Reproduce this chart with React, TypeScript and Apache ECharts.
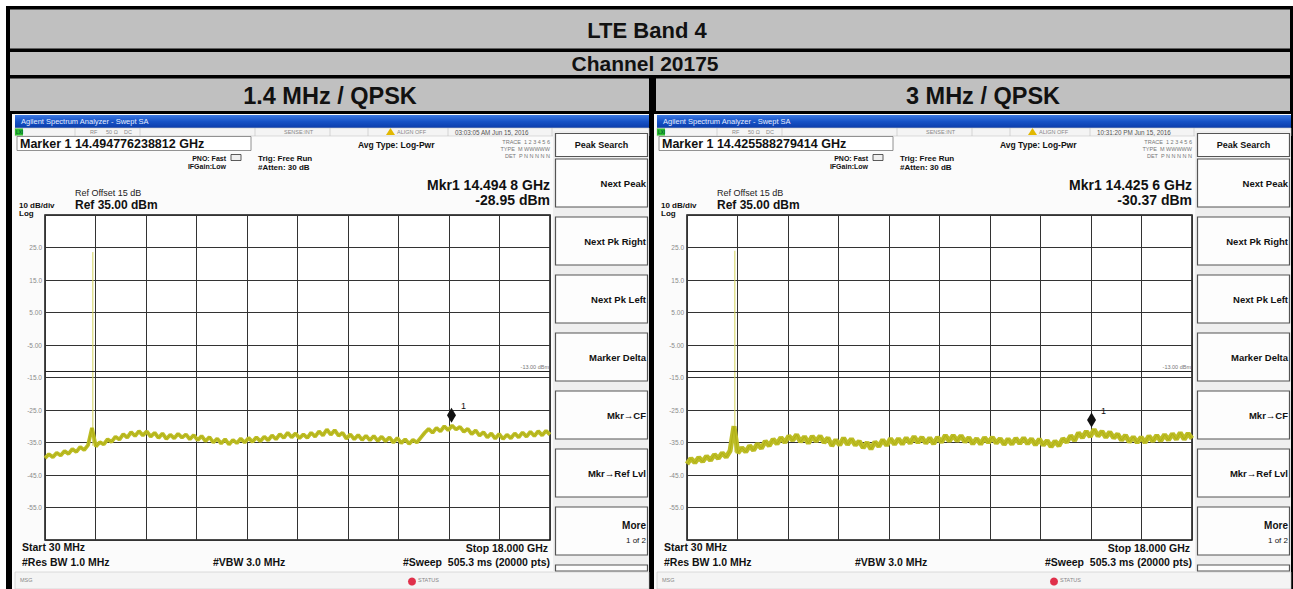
import React, { useEffect, useRef } from 'react';
import * as echarts from 'echarts';

// ---------- texts ----------
const TABLE_TITLE = 'LTE Band 4';
const CHANNEL_TITLE = 'Channel 20175';
const PANEL_TITLES = ['1.4 MHz / QPSK', '3 MHz / QPSK'];
const WINDOW_TITLE = 'Agilent Spectrum Analyzer - Swept SA';
const MARKER_LINES = ['Marker 1 14.494776238812 GHz', 'Marker 1 14.425588279414 GHz'];
const TIMESTAMPS = ['03:03:05 AM Jun 15, 2016', '10:31:20 PM Jun 15, 2016'];
const MKR_FREQ_TEXT = ['Mkr1 14.494 8 GHz', 'Mkr1 14.425 6 GHz'];
const MKR_LEVEL_TEXT = ['-28.95 dBm', '-30.37 dBm'];
const SOFTKEYS = ['Next Peak', 'Next Pk Right', 'Next Pk Left', 'Marker Delta', 'Mkr\u2192CF', 'Mkr\u2192Ref Lvl'];

// ---------- values ----------
const SWEEP_START_GHZ = 0.03;
const SWEEP_STOP_GHZ = 18;
const REF_LEVEL_DBM = 35;
const BOTTOM_LEVEL_DBM = -65;
const DB_PER_DIV = 10;
const LIMIT_DBM = -13;
const MARKER_FREQ_GHZ = [14.494776, 14.425588];
const MARKER_LEVEL_DBM = [-28.95, -30.37];
const CARRIER_FREQ_GHZ = 1.7325;
const CARRIER_PEAK_DBM = [23.6, 24.0];
const CARRIER_BASE_DBM = [-36.0, -38.0];
const Y_TICKS = [25, 15, 5, -5, -15, -25, -35, -45, -55];
const Y_TICK_LABELS = ['25.0', '15.0', '5.00', '-5.00', '-15.0', '-25.0', '-35.0', '-45.0', '-55.0'];

const LEFT_TRACE = [
  -39.8, -38.6, -39.5, -38.2, -39.0, -37.6, -38.5, -37.0, -37.9, -36.4,
  -37.3, -35.8, -30.5, -36.2, -34.9, -35.6, -34.0, -34.8, -33.2, -34.1,
  -32.4, -33.5, -31.8, -33.0, -31.5, -32.8, -31.6, -33.2, -32.0, -33.6,
  -32.2, -33.9, -32.6, -33.7, -32.3, -33.5, -32.5, -34.0, -32.7, -34.3,
  -33.0, -34.6, -33.3, -35.0, -33.8, -35.3, -34.0, -35.6, -34.2, -35.2,
  -33.8, -35.0, -33.6, -34.8, -33.4, -34.6, -33.2, -34.3, -32.8, -34.0,
  -32.4, -33.6, -32.0, -33.4, -32.2, -33.7, -32.5, -33.6, -32.0, -33.2,
  -31.6, -32.8, -31.0, -32.6, -31.2, -32.9, -32.0, -33.8, -32.5, -34.0,
  -32.7, -34.2, -32.9, -34.3, -33.0, -34.5, -33.2, -34.6, -33.4, -35.0,
  -33.6, -35.2, -34.0, -35.4, -34.2, -35.0, -33.5, -32.0, -30.8, -32.0,
  -30.5, -31.6, -30.0, -31.2, -29.8, -31.0, -30.2, -31.7, -30.8, -32.4,
  -31.3, -32.9, -31.8, -33.4, -32.2, -33.8, -32.4, -33.9, -32.6, -33.7,
  -32.2, -33.4, -31.9, -33.2, -31.7, -33.0, -31.5, -32.8, -31.4, -32.6,
];

const RIGHT_TRACE = [
  -41.6, -39.9, -41.2, -39.6, -40.9, -39.2, -40.5, -38.7, -39.9, -38.2,
  -39.5, -37.6, -30.0, -38.2, -36.6, -37.9, -36.0, -37.4, -35.4, -36.8,
  -34.6, -36.0, -34.0, -35.4, -33.5, -35.0, -33.0, -34.3, -32.6, -34.8,
  -33.2, -35.2, -33.1, -34.6, -33.0, -35.0, -33.6, -36.0, -34.2, -35.8,
  -33.6, -35.6, -33.9, -35.8, -34.6, -36.6, -35.0, -37.0, -34.8, -36.2,
  -34.2, -35.9, -33.8, -35.6, -33.8, -35.5, -33.6, -35.2, -33.2, -35.0,
  -33.4, -35.2, -33.6, -35.4, -33.4, -34.9, -32.8, -34.6, -32.8, -34.5,
  -32.9, -34.8, -33.5, -35.4, -33.8, -35.5, -33.5, -35.0, -33.4, -35.2,
  -33.8, -35.6, -33.9, -35.5, -33.7, -35.3, -33.6, -35.4, -33.9, -35.7,
  -34.0, -35.8, -34.4, -36.3, -34.6, -36.0, -33.8, -34.9, -32.9, -34.4,
  -32.0, -33.5, -31.6, -33.2, -31.0, -33.0, -31.6, -33.4, -31.8, -33.6,
  -32.4, -34.3, -32.8, -34.8, -33.3, -35.0, -33.4, -35.0, -33.0, -34.6,
  -32.8, -34.5, -32.6, -34.2, -32.3, -34.0, -32.0, -34.0, -32.2, -33.8,
];

const TRACES = [LEFT_TRACE, RIGHT_TRACE];

// ---------- helpers ----------
const FONT = '"Liberation Sans", Arial, Helvetica, sans-serif';

function txt(x: number, y: number, text: string, size: number, opts: any = {}) {
  const align = opts.align || 'left';
  const weight = opts.bold === false ? 'normal' : 'bold';
  return {
    type: 'text',
    x,
    y,
    z: 20,
    silent: true,
    style: {
      text,
      fill: opts.color || '#111',
      font: `${weight} ${size}px ${FONT}`,
      align,
      textAlign: align,
      verticalAlign: 'middle',
      textVerticalAlign: 'middle',
    },
  };
}

function rect(x: number, y: number, w: number, h: number, fill: any, stroke?: string, lw?: number, z = -5) {
  return {
    type: 'rect',
    z,
    silent: true,
    shape: { x, y, width: w, height: h },
    style: { fill, stroke: stroke || null, lineWidth: lw || 0 },
  };
}

function seg(x1: number, y1: number, x2: number, y2: number, stroke: string, lw = 1, z = -4) {
  return { type: 'line', z, silent: true, shape: { x1, y1, x2, y2 }, style: { stroke, lineWidth: lw } };
}

function tracePoints(values: number[]) {
  const n = values.length;
  const step = (SWEEP_STOP_GHZ - SWEEP_START_GHZ) / (n - 1);
  return values.map((v, i) => [SWEEP_START_GHZ + i * step, v]);
}

function screenshotElements(k: number) {
  const dx = k === 0 ? 0 : 642;
  const X = (x: number) => x + dx;
  const els: any[] = [];
  // screen background
  els.push(rect(X(12), 114, 637, 475, '#fbfbfb', undefined, 0, -8));
  // title bar
  els.push(
    rect(
      X(15),
      115,
      634,
      13,
      new echarts.graphic.LinearGradient(0, 0, 0, 1, [
        { offset: 0, color: '#3d7ae2' },
        { offset: 0.5, color: '#1652c6' },
        { offset: 1, color: '#0b3caa' },
      ]),
      undefined,
      0,
      -6
    )
  );
  els.push(txt(X(21), 121.5, WINDOW_TITLE, 7.5, { bold: false, color: '#e4ecff' }));
  // status row
  els.push(rect(X(15), 128, 634, 8, '#f4f4f4', '#c8c8c8', 0.6, -6));
  [75, 140, 255, 330, 368, 448, 552].forEach((x) => els.push(seg(X(x), 128, X(x), 136, '#c0c0c0', 0.6)));
  els.push(rect(X(15), 128.5, 8, 7, '#2fbf2f', undefined, 0, -3));
  els.push(txt(X(16), 132, 'LXI', 4.5, { color: '#063' }));
  els.push(txt(X(90), 132, 'RF', 5.5, { bold: false, color: '#888' }));
  els.push(txt(X(106), 132, '50 \u03a9', 5.5, { bold: false, color: '#888' }));
  els.push(txt(X(124), 132, 'DC', 5.5, { bold: false, color: '#888' }));
  els.push(txt(X(284), 132, 'SENSE:INT', 5.5, { bold: false, color: '#888' }));
  els.push({
    type: 'polygon',
    z: 5,
    silent: true,
    shape: { points: [[X(386), 135], [X(390.5), 128], [X(395), 135]] },
    style: { fill: '#e2b800' },
  });
  els.push(txt(X(397), 132, 'ALIGN OFF', 5.5, { bold: false, color: '#888' }));
  els.push(txt(X(455), 132, TIMESTAMPS[k], 6.3, { bold: false, color: '#555' }));

  // marker box
  els.push(rect(X(17), 136.5, 234, 14, '#ffffff', '#777', 0.8, -4));
  els.push(txt(X(20), 143.5, MARKER_LINES[k], 12.5));
  els.push(txt(X(226), 158, 'PNO: Fast', 7, { align: 'right' }));
  els.push(rect(X(231), 154.5, 10, 6, '#f0f0f0', '#333', 0.8, 2));
  els.push(txt(X(226), 166, 'IFGain:Low', 7, { align: 'right' }));
  els.push(txt(X(258), 158, 'Trig: Free Run', 8));
  els.push(txt(X(258), 167, '#Atten: 30 dB', 8));
  els.push(txt(X(358), 145, 'Avg Type: Log-Pwr', 8.5));
  els.push(txt(X(550), 142, 'TRACE  1 2 3 4 5 6', 5.5, { bold: false, color: '#777', align: 'right' }));
  els.push(txt(X(550), 149, 'TYPE  M WWWWW', 5.5, { bold: false, color: '#777', align: 'right' }));
  els.push(txt(X(550), 156, 'DET  P N N N N N', 5.5, { bold: false, color: '#777', align: 'right' }));
  els.push(txt(X(75), 193, 'Ref Offset 15 dB', 9, { bold: false, color: '#222' }));
  els.push(txt(X(75), 205, 'Ref 35.00 dBm', 12));
  els.push(txt(X(19), 205.5, '10 dB/div', 8));
  els.push(txt(X(19), 213.5, 'Log', 8));
  els.push(txt(X(550), 185, MKR_FREQ_TEXT[k], 14, { align: 'right' }));
  els.push(txt(X(550), 199.5, MKR_LEVEL_TEXT[k], 14, { align: 'right' }));

  // bottom annotations
  els.push(txt(X(22), 547, 'Start 30 MHz', 10.5));
  els.push(txt(X(22), 562, '#Res BW 1.0 MHz', 10.5));
  els.push(txt(X(213), 562, '#VBW 3.0 MHz', 10.5));
  els.push(txt(X(548), 547.5, 'Stop 18.000 GHz', 10.5, { align: 'right' }));
  els.push(txt(X(550), 562, '#Sweep  505.3 ms (20000 pts)', 10.5, { align: 'right' }));
  els.push(rect(X(15), 572, 634, 17, '#f4f4f4', '#c8c8c8', 0.6, -6));
  els.push(txt(X(20), 580, 'MSG', 5.5, { bold: false, color: '#888' }));
  els.push({ type: 'circle', z: 5, silent: true, shape: { cx: X(412), cy: 581.5, r: 4 }, style: { fill: '#e0304a' } });
  els.push(txt(X(418), 580, 'STATUS', 5.5, { bold: false, color: '#888' }));

  // softkeys
  els.push(rect(X(553), 131, 96, 441, '#efefef', undefined, 0, -6));
  els.push(rect(X(555.5), 133.5, 92, 23, '#fdfdfd', '#555', 1.2, -3));
  els.push(txt(X(601.5), 145, 'Peak Search', 9, { align: 'center' }));
  SOFTKEYS.forEach((label, i) => {
    const top = 159 + i * 58;
    els.push(rect(X(555.5), top, 92, 48, '#fdfdfd', '#555', 1.2, -3));
    els.push(txt(X(646), top + 24, label, 9.5, { align: 'right' }));
  });
  els.push(rect(X(555.5), 507, 92, 48, '#fdfdfd', '#555', 1.2, -3));
  els.push(txt(X(646), 525, 'More', 10, { align: 'right' }));
  els.push(txt(X(646), 540, '1 of 2', 8, { bold: false, align: 'right' }));
  els.push(rect(X(555.5), 565, 92, 6, '#fdfdfd', '#555', 1.2, -3));
  return els;
}

function buildOption() {
  const graphics: any[] = [];
  // table frame
  graphics.push(rect(6, 6, 1287, 583, '#000000', undefined, 0, -10));
  graphics.push(rect(10, 9.5, 1280, 39, '#c0c0c0', undefined, 0, -9));
  graphics.push(rect(10, 52, 1280, 23, '#c0c0c0', undefined, 0, -9));
  graphics.push(rect(10, 78.5, 639, 32.5, '#c0c0c0', undefined, 0, -9));
  graphics.push(rect(656, 78.5, 634, 32.5, '#c0c0c0', undefined, 0, -9));
  graphics.push(txt(647, 30.5, TABLE_TITLE, 22, { align: 'center' }));
  graphics.push(txt(645, 63.5, CHANNEL_TITLE, 21, { align: 'center' }));
  graphics.push(txt(330, 96, PANEL_TITLES[0], 23.5, { align: 'center' }));
  graphics.push(txt(983, 96, PANEL_TITLES[1], 23.5, { align: 'center' }));
  graphics.push(...screenshotElements(0));
  graphics.push(...screenshotElements(1));

  const grids = [
    { left: 45, top: 215, width: 505, height: 325 },
    { left: 687, top: 215, width: 505, height: 325 },
  ].map((g) => ({
    ...g,
    show: true,
    backgroundColor: '#ffffff',
    borderColor: '#111',
    borderWidth: 1.5,
  }));

  const xAxis: any[] = [];
  const yAxis: any[] = [];
  const series: any[] = [];
  [0, 1].forEach((k) => {
    xAxis.push({ type: 'value', gridIndex: k, min: SWEEP_START_GHZ, max: SWEEP_STOP_GHZ, show: false });
    xAxis.push({
      type: 'value',
      gridIndex: k,
      min: 0,
      max: 10,
      interval: 1,
      position: 'top',
      axisLine: { show: false },
      axisTick: { show: false },
      axisLabel: { show: false },
      splitLine: { show: true, lineStyle: { color: '#333', width: 1 } },
    });
    yAxis.push({
      type: 'value',
      gridIndex: k,
      min: BOTTOM_LEVEL_DBM,
      max: REF_LEVEL_DBM,
      interval: DB_PER_DIV,
      axisLine: { show: false },
      axisTick: { show: false },
      splitLine: { show: true, lineStyle: { color: '#333', width: 1 } },
      axisLabel: {
        margin: 3,
        fontSize: 6.5,
        color: '#8a8a8a',
        fontFamily: FONT,
        formatter: (v: number) => {
          const i = Y_TICKS.indexOf(Math.round(v));
          return i >= 0 ? Y_TICK_LABELS[i] : '';
        },
      },
    });
    const pts = tracePoints(TRACES[k]);
    series.push({
      type: 'line',
      name: `carrier${k}`,
      xAxisIndex: k * 2,
      yAxisIndex: k,
      data: [
        [CARRIER_FREQ_GHZ, CARRIER_BASE_DBM[k]],
        [CARRIER_FREQ_GHZ, CARRIER_PEAK_DBM[k]],
      ],
      symbol: 'none',
      silent: true,
      lineStyle: { color: '#d2d25a', width: 1 },
      z: 3,
    });
    // wide noisy band
    series.push({
      type: 'line',
      name: `band${k}`,
      xAxisIndex: k * 2,
      yAxisIndex: k,
      data: pts,
      symbol: 'none',
      silent: true,
      lineStyle: { color: '#bdbd26', width: k === 0 ? 3.8 : 5, join: 'bevel' },
      z: 4,
    });
    // core of the trace
    series.push({
      type: 'line',
      name: `trace${k}`,
      xAxisIndex: k * 2,
      yAxisIndex: k,
      data: pts,
      symbol: 'none',
      silent: true,
      lineStyle: { color: '#a6a606', width: 0.8, opacity: 0.7 },
      z: 5,
      markLine: {
        silent: true,
        symbol: 'none',
        data: [{ yAxis: LIMIT_DBM }],
        lineStyle: { color: '#222', width: 1, type: 'solid' },
        label: {
          show: true,
          position: 'insideEndTop',
          formatter: '-13.00 dBm',
          fontSize: 5.5,
          color: '#777',
          distance: 1,
          fontFamily: FONT,
        },
      },
      markPoint: {
        silent: true,
        symbol: 'diamond',
        symbolSize: [9, 15],
        symbolOffset: [0, '-50%'],
        itemStyle: { color: '#111' },
        label: {
          show: true,
          position: 'right',
          offset: [0, -9],
          formatter: '1',
          fontSize: 9,
          color: '#111',
          fontFamily: FONT,
        },
        data: [{ coord: [MARKER_FREQ_GHZ[k], MARKER_LEVEL_DBM[k]] }],
      },
    });
  });

  return {
    animation: false,
    backgroundColor: '#ffffff',
    grid: grids,
    xAxis,
    yAxis,
    series,
    graphic: { elements: graphics },
  };
}

export default function App() {
  const ref = useRef<HTMLDivElement>(null);
  useEffect(() => {
    if (!ref.current) return;
    const chart = echarts.init(ref.current, null, { renderer: 'svg', width: 1293, height: 589 });
    chart.setOption(buildOption() as any);
    return () => chart.dispose();
  }, []);
  return <div ref={ref} style={{ position: 'fixed', left: 0, top: 0, width: 1293, height: 589 }} />;
}
